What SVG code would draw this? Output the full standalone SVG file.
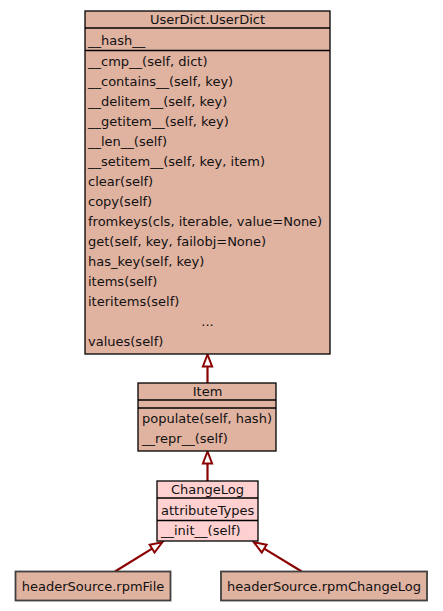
<svg xmlns="http://www.w3.org/2000/svg" width="443" height="611" viewBox="0 0 443 611">
<defs>
<style>
.box{fill:#e0b2a0;stroke:#000;stroke-width:1.3}
.hl{fill:#ffd0d0;stroke:#000;stroke-width:1.3}
.leaf{fill:#e0b2a0;stroke:#404040;stroke-width:1.8}
.div{stroke:#000;stroke-width:1.3;fill:none}
text{font-family:"DejaVu Sans",sans-serif;font-size:13px;fill:#111}
.c{text-anchor:middle}
.edge{stroke:#8b0000;stroke-width:2.2;fill:none;marker-end:url(#tri)}
</style>
<marker id="tri" markerUnits="userSpaceOnUse" viewBox="-2 -7 16 14" refX="0" refY="0" markerWidth="16" markerHeight="14" orient="auto" overflow="visible">
<path d="M0,-4.6 L12,0 L0,4.6 z" fill="#fff" stroke="#8b0000" stroke-width="2"/>
</marker>
</defs>
<g id="connectors">
<line class="edge" x1="207.5" y1="383" x2="207.5" y2="366.5"/>
<line class="edge" x1="207.5" y1="481" x2="207.5" y2="463.5"/>
<line class="edge" x1="115" y1="571.5" x2="152.1" y2="548.6"/>
<line class="edge" x1="301.7" y1="571.5" x2="264.2" y2="548.6"/>
</g>
<g id="UserDict.UserDict">
<rect class="box" x="85" y="11" width="245" height="343"/>
<line class="div" x1="85" y1="28" x2="330" y2="28"/>
<line class="div" x1="85" y1="50.5" x2="330" y2="50.5"/>
<text class="c" x="207.5" y="24">UserDict.UserDict</text>
<text x="88" y="45">__hash__</text>
<text x="88" y="65.5">__cmp__(self, dict)</text>
<text x="88" y="85.5">__contains__(self, key)</text>
<text x="88" y="105.5">__delitem__(self, key)</text>
<text x="88" y="125.5">__getitem__(self, key)</text>
<text x="88" y="145.5">__len__(self)</text>
<text x="88" y="165.5">__setitem__(self, key, item)</text>
<text x="88" y="185.5">clear(self)</text>
<text x="88" y="205.5">copy(self)</text>
<text x="88" y="225.5">fromkeys(cls, iterable, value=None)</text>
<text x="88" y="245.5">get(self, key, failobj=None)</text>
<text x="88" y="265.5">has_key(self, key)</text>
<text x="88" y="285.5">items(self)</text>
<text x="88" y="305.5">iteritems(self)</text>
<text class="c" x="207.5" y="325.5">...</text>
<text x="88" y="345.5">values(self)</text>
</g>
<g id="Item">
<rect class="box" x="138" y="383" width="138" height="68"/>
<line class="div" x1="138" y1="400" x2="276" y2="400"/>
<line class="div" x1="138" y1="408" x2="276" y2="408"/>
<text class="c" x="207.5" y="396">Item</text>
<text x="142" y="423">populate(self, hash)</text>
<text x="142" y="443">__repr__(self)</text>
</g>
<g id="ChangeLog">
<rect class="hl" x="157" y="481" width="101" height="60"/>
<line class="div" x1="157" y1="498" x2="258" y2="498"/>
<line class="div" x1="157" y1="520.5" x2="258" y2="520.5"/>
<text class="c" x="207.5" y="494">ChangeLog</text>
<text x="161" y="514.5">attributeTypes</text>
<text x="161" y="535">__init__(self)</text>
</g>
<g id="headerSource.rpmFile">
<rect class="leaf" x="15.5" y="571.5" width="155" height="29"/>
<text class="c" x="93" y="590.5">headerSource.rpmFile</text>
</g>
<g id="headerSource.rpmChangeLog">
<rect class="leaf" x="221" y="571.5" width="206" height="29"/>
<text class="c" x="324" y="590.5">headerSource.rpmChangeLog</text>
</g>
</svg>
